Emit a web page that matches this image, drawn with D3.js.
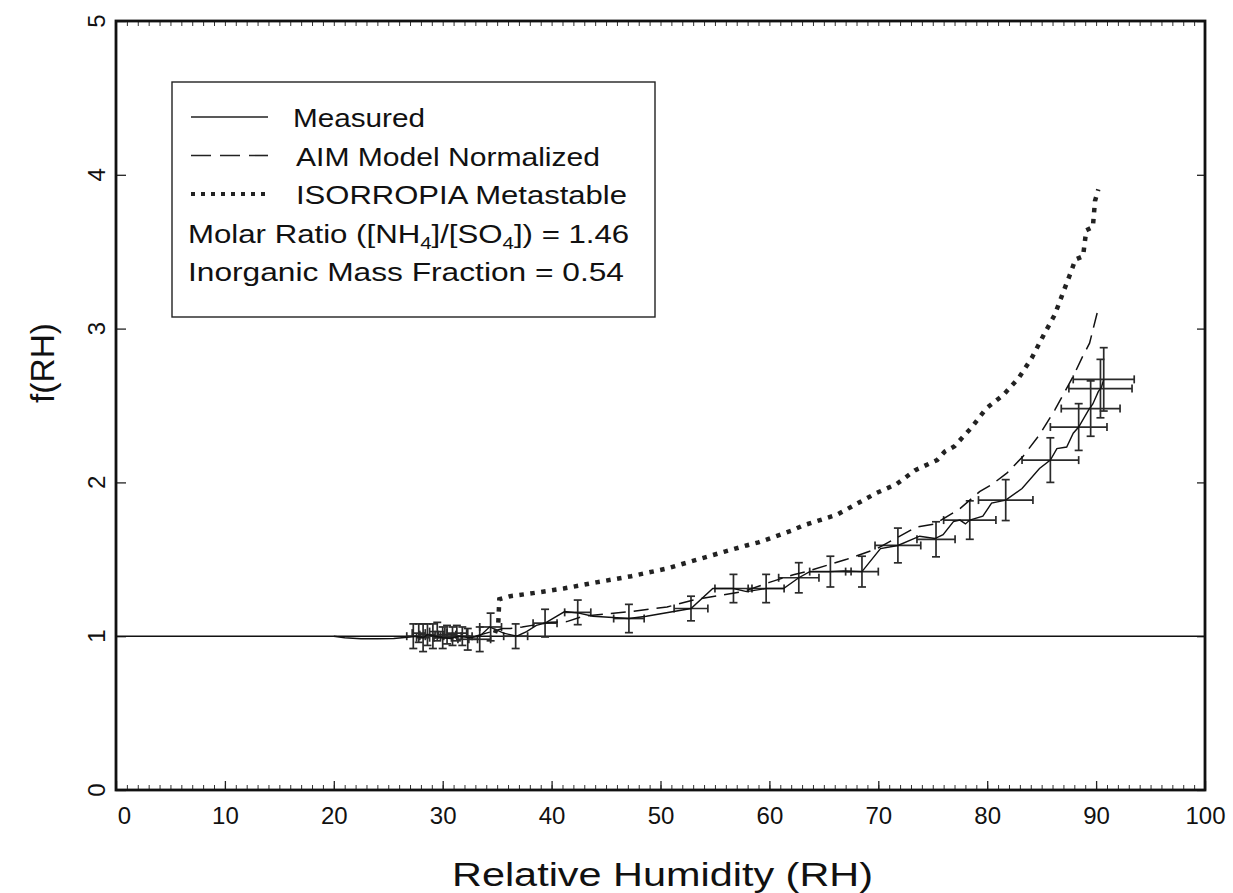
<html>
<head>
  <title>f(RH) vs Relative Humidity</title>
  <script src="https://d3js.org/d3.v7.min.js"></script>
  <style>
    body { margin: 0; background: #fff; }
    text { font-family: "Liberation Sans", Arial, sans-serif; fill: #111; }
  </style>
</head>
<body>
  <svg id="chart" width="1233" height="893"></svg>
  <script>
    // measured f(RH) curve
    const measuredX = [20, 21, 22.5, 24, 25.5, 27, 27.5, 28.2, 28.6, 29.3, 30.0, 30.7, 31.5, 32.5, 33.4, 34.3, 35.6, 36.8, 37.7, 38.6, 39.4, 41.2, 42.5, 43.8, 47.1, 48.7, 52.8, 54.8, 56.7, 57.9, 59.7, 61.3, 62.7, 63.7, 65.6, 66.8, 68.5, 70.2, 71.8, 73.8, 75.2, 75.95, 76.9, 77.5, 78.0, 78.4, 79.6, 80.4, 81.7, 83.2, 84.8, 85.8, 86.4, 87.3, 87.9, 88.4, 89.3, 89.7, 90.2, 90.5, 90.7];
    const measuredY = [1.0, 0.99, 0.983, 0.983, 0.985, 0.995, 1.0, 0.99, 1.01, 1.0, 0.99, 0.985, 1.0, 0.99, 1.0, 1.06, 1.02, 1.0, 1.03, 1.07, 1.085, 1.16, 1.15, 1.13, 1.115, 1.13, 1.18, 1.31, 1.31, 1.29, 1.31, 1.31, 1.38, 1.42, 1.42, 1.425, 1.42, 1.57, 1.59, 1.65, 1.635, 1.66, 1.745, 1.755, 1.73, 1.755, 1.78, 1.865, 1.885, 1.96, 2.09, 2.145, 2.22, 2.23, 2.32, 2.36, 2.47, 2.51, 2.59, 2.62, 2.67];

    // error bar points
    const errX  = [27.3, 27.8, 28.2, 28.6, 29.1, 29.5, 30.0, 30.4, 30.9, 31.3, 31.8, 32.3, 33.4, 34.4, 36.7, 39.4, 42.4, 47.1, 52.8, 56.7, 59.7, 62.7, 65.6, 68.5, 71.8, 75.3, 78.4, 81.7, 85.8, 88.4, 89.5, 90.4, 90.7];
    const errY  = [1.00, 1.02, 0.99, 1.01, 1.00, 1.03, 0.99, 1.01, 1.00, 1.02, 1.00, 0.98, 0.98, 1.06, 1.00, 1.085, 1.155, 1.115, 1.18, 1.31, 1.31, 1.38, 1.42, 1.42, 1.59, 1.63, 1.755, 1.885, 2.145, 2.36, 2.48, 2.61, 2.67];
    const errXe = [0.6, 0.6, 0.6, 0.7, 0.7, 0.7, 0.8, 0.8, 0.8, 0.9, 0.9, 0.9, 1.0, 1.0, 1.1, 1.1, 1.2, 1.4, 1.55, 1.7, 1.65, 1.85, 1.9, 1.5, 2.1, 1.75, 2.4, 2.5, 2.6, 2.6, 2.7, 2.9, 2.8];
    const errYe = [0.08, 0.06, 0.09, 0.07, 0.08, 0.06, 0.07, 0.06, 0.06, 0.05, 0.06, 0.07, 0.08, 0.09, 0.08, 0.09, 0.08, 0.092, 0.08, 0.092, 0.092, 0.098, 0.1, 0.1, 0.113, 0.114, 0.125, 0.133, 0.145, 0.152, 0.18, 0.19, 0.206];

    // AIM model normalized (dashed)
    const aimX = [33.0, 34.0, 35.5, 36.2, 37.3, 39.9, 41.4, 42.9, 47.2, 50.6, 53.3, 57.6, 60.0, 62.2, 63.4, 67.1, 69.9, 73.5, 75.2, 77.5, 79.3, 80.5, 81.8, 83.3, 84.8, 86.2, 87.9, 88.7, 89.4, 89.7, 90.2];
    const aimY = [1.0, 1.02, 1.05, 1.05, 1.06, 1.09, 1.095, 1.13, 1.16, 1.19, 1.24, 1.29, 1.35, 1.40, 1.42, 1.50, 1.57, 1.71, 1.73, 1.83, 1.94, 1.99, 2.06, 2.17, 2.31, 2.47, 2.69, 2.81, 2.905, 2.99, 3.13];

    // ISORROPIA metastable (dotted)
    const isoX = [34.8, 35.1, 35.2, 36.2, 38.3, 41.1, 44.1, 47.3, 50.6, 53.7, 55.9, 57.9, 59.0, 62.0, 63.1, 66.2, 69.8, 71.7, 73.4, 75.4, 76.1, 77.0, 77.7, 78.6, 79.9, 81.5, 82.9, 84.1, 85.2, 86.2, 87.0, 87.7, 88.1, 88.8, 89.1, 89.7, 89.9, 90.2];
    const isoY = [1.02, 1.08, 1.24, 1.26, 1.28, 1.31, 1.35, 1.39, 1.44, 1.505, 1.55, 1.59, 1.61, 1.685, 1.72, 1.79, 1.93, 1.99, 2.08, 2.145, 2.2, 2.235, 2.29, 2.36, 2.48, 2.57, 2.68, 2.81, 2.96, 3.09, 3.24, 3.37, 3.45, 3.47, 3.64, 3.66, 3.83, 3.905];

    const xTicks = [0, 10, 20, 30, 40, 50, 60, 70, 80, 90, 100];
    const yTicks = [0, 1, 2, 3, 4, 5];

    const legendLines = ["Measured", "AIM Model Normalized", "ISORROPIA Metastable"];

    const svg = d3.select("#chart");
    const margin = {top: 21, right: 28, bottom: 103, left: 116};
    const width = 1233 - margin.left - margin.right;
    const height = 893 - margin.top - margin.bottom;

    const x = d3.scaleLinear().domain([0, 100]).range([margin.left, margin.left + width]);
    const y = d3.scaleLinear().domain([0, 5]).range([margin.top + height, margin.top]);

    const annotations = svg.append("g").attr("id", "annotations");
    const plotArea = svg.append("g").attr("id", "plotarea");

    // minor x ticks (inward) on bottom and top
    const minorX = d3.range(0, 101, 1);
    annotations.append("g")
      .attr("transform", `translate(0,${y(0)})`)
      .call(d3.axisBottom(x).tickValues(minorX).tickSize(-5).tickFormat(""))
      .call(g => g.select(".domain").remove())
      .selectAll("line").attr("stroke", "#333").attr("stroke-width", 1);
    annotations.append("g")
      .attr("transform", `translate(0,${y(5)})`)
      .call(d3.axisTop(x).tickValues(minorX).tickSize(-5).tickFormat(""))
      .call(g => g.select(".domain").remove())
      .selectAll("line").attr("stroke", "#333").attr("stroke-width", 1);

    // major x ticks + labels
    const xAxis = annotations.append("g")
      .attr("transform", `translate(0,${y(0)})`)
      .call(d3.axisBottom(x).tickValues(xTicks).tickSize(-9).tickPadding(17));
    xAxis.select(".domain").remove();
    xAxis.selectAll("line").attr("stroke", "#222").attr("stroke-width", 1.3);
    xAxis.selectAll("text")
      .attr("font-size", 24).attr("fill", "#111")
      .attr("font-family", "Liberation Sans, Arial, sans-serif")
      .attr("dx", d => d === 0 ? 8 : 0);

    // y ticks, labels rotated
    const yAxis = annotations.append("g")
      .attr("transform", `translate(${x(0)},0)`)
      .call(d3.axisLeft(y).tickValues(yTicks).tickSize(-10).tickFormat(""));
    yAxis.select(".domain").remove();
    yAxis.selectAll("line").attr("stroke", "#222").attr("stroke-width", 1.3);
    const yRight = annotations.append("g")
      .attr("transform", `translate(${x(100)},0)`)
      .call(d3.axisRight(y).tickValues(yTicks).tickSize(-8).tickFormat(""));
    yRight.select(".domain").remove();
    yRight.selectAll("line").attr("stroke", "#222").attr("stroke-width", 1.3);

    annotations.selectAll(".ylab")
      .data(yTicks)
      .join("text")
      .attr("class", "ylab")
      .attr("transform", d => `translate(${x(0) - 11},${y(d)}) rotate(-90)`)
      .attr("text-anchor", "middle")
      .attr("font-size", 24)
      .text(d => d);

    // frame
    annotations.append("rect")
      .attr("x", x(0)).attr("y", y(5))
      .attr("width", x(100) - x(0)).attr("height", y(0) - y(5))
      .attr("fill", "none").attr("stroke", "#111").attr("stroke-width", 2.8);

    // axis titles
    annotations.append("text")
      .attr("x", 452).attr("y", 886)
      .attr("font-size", 33)
      .attr("textLength", 421).attr("lengthAdjust", "spacingAndGlyphs")
      .text("Relative Humidity (RH)");
    annotations.append("text")
      .attr("transform", `translate(54,${363}) rotate(-90)`)
      .attr("text-anchor", "middle").attr("font-size", 33)
      .attr("textLength", 80).attr("lengthAdjust", "spacingAndGlyphs")
      .text("f(RH)");

    // reference line f(RH)=1
    plotArea.append("line")
      .attr("x1", x(0)).attr("x2", x(100))
      .attr("y1", y(1)).attr("y2", y(1))
      .attr("stroke", "#111").attr("stroke-width", 1.5);

    const line = d3.line().x(d => x(d[0])).y(d => y(d[1]));

    // error bars
    const errData = errX.map((d, i) => ({x: d, y: errY[i], xe: errXe[i], ye: errYe[i]}));
    const eb = plotArea.append("g").attr("stroke", "#2a2a2a").attr("stroke-width", 1.7).attr("fill", "none");
    errData.forEach(d => {
      eb.append("line").attr("x1", x(d.x)).attr("x2", x(d.x)).attr("y1", y(d.y - d.ye)).attr("y2", y(d.y + d.ye));
      eb.append("line").attr("x1", x(d.x - d.xe)).attr("x2", x(d.x + d.xe)).attr("y1", y(d.y)).attr("y2", y(d.y));
      [d.y - d.ye, d.y + d.ye].forEach(v => eb.append("line")
        .attr("x1", x(d.x) - 4).attr("x2", x(d.x) + 4).attr("y1", y(v)).attr("y2", y(v)));
      [d.x - d.xe, d.x + d.xe].forEach(v => eb.append("line")
        .attr("x1", x(v)).attr("x2", x(v)).attr("y1", y(d.y) - 4).attr("y2", y(d.y) + 4));
    });

    // curves
    plotArea.append("path")
      .datum(measuredX.map((d, i) => [d, measuredY[i]]))
      .attr("d", line).attr("fill", "none").attr("stroke", "#111").attr("stroke-width", 1.4);
    plotArea.append("path")
      .datum(aimX.map((d, i) => [d, aimY[i]]))
      .attr("d", line).attr("fill", "none").attr("stroke", "#111").attr("stroke-width", 1.5)
      .attr("stroke-dasharray", "15,8");
    plotArea.append("path")
      .datum(isoX.map((d, i) => [d, isoY[i]]))
      .attr("d", line).attr("fill", "none").attr("stroke", "#222").attr("stroke-width", 4.5)
      .attr("stroke-dasharray", "4.5,6.5");

    // legend box
    const legend = svg.append("g").attr("id", "legend");
    legend.append("rect")
      .attr("x", 172).attr("y", 82).attr("width", 483).attr("height", 235)
      .attr("fill", "#fff").attr("stroke", "#222").attr("stroke-width", 1.4);
    const dashes = [null, "20,9", "4,6"];
    const widths = [1.3, 1.6, 4];
    const textX = [293, 296, 296];
    const textLen = [132, 304, 331];
    legendLines.forEach((t, i) => {
      const ly = 117 + i * 38.5;
      legend.append("line")
        .attr("x1", 191).attr("x2", 268).attr("y1", ly).attr("y2", ly)
        .attr("stroke", "#222").attr("stroke-width", widths[i])
        .attr("stroke-dasharray", dashes[i]);
      legend.append("text")
        .attr("x", textX[i]).attr("y", ly + 10)
        .attr("font-size", 26)
        .attr("textLength", textLen[i]).attr("lengthAdjust", "spacingAndGlyphs")
        .text(t);
    });
    const molar = legend.append("text")
      .attr("transform", "translate(188,243) scale(1.2,1)")
      .attr("font-size", 26);
    molar.append("tspan").text("Molar Ratio ([NH");
    molar.append("tspan").attr("font-size", 17).attr("dy", 6).text("4");
    molar.append("tspan").attr("dy", -6).text("]/[SO");
    molar.append("tspan").attr("font-size", 17).attr("dy", 6).text("4");
    molar.append("tspan").attr("dy", -6).text("]) = 1.46");
    legend.append("text").attr("x", 188).attr("y", 281).attr("font-size", 26)
      .attr("textLength", 436).attr("lengthAdjust", "spacingAndGlyphs")
      .text("Inorganic Mass Fraction = 0.54");
  </script>
</body>
</html>
